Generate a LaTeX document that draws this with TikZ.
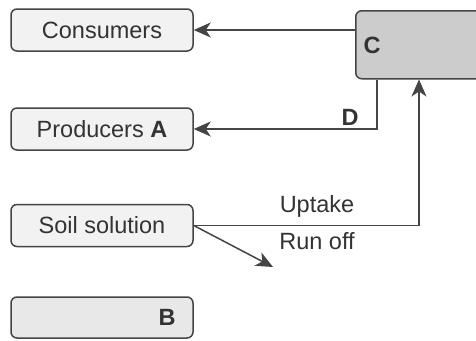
\documentclass[tikz,border=0pt]{standalone}
\usepackage{fontspec}
\setmainfont{Liberation Sans}
\usetikzlibrary{arrows.meta,calc}
\definecolor{ln}{HTML}{454545}
\definecolor{tx}{HTML}{333333}
\tikzset{
  box/.style={draw=ln, line width=1.5pt, rounded corners=6pt, fill=#1, minimum width=182pt, minimum height=42pt, inner sep=0pt, text=tx, font=\fontsize{23.5}{26}\selectfont},
  box/.default={black!5},
  lbl/.style={text=tx, font=\fontsize{23.5}{26}\selectfont, inner sep=0pt},
  arr/.style={draw=ln, line width=1.5pt, -{Stealth[length=17pt,width=15pt,inset=5pt]}},
}
\begin{document}
\begin{tikzpicture}[x=1pt,y=-1pt]
\clip (0,0) rectangle (476,340);
\fill[white] (0,0) rectangle (476,340);
\node[box] (cons) at (102,30) {Consumers};
\node[box] (prod) at (102,129) {Producers \textbf{A}};
\node[box] (soil) at (102,225.5) {Soil solution};
\node[box={black!9}, minimum height=41pt] (bbox) at (102,317.5) {};
\node[lbl, font=\fontsize{23.5}{26}\selectfont\bfseries] (blab) at (167,317.5) {B};
\node[box={black!20}, minimum width=140pt, minimum height=68pt, anchor=north west] (cbox) at (355,10) {};
\node[lbl, font=\fontsize{23.5}{26}\selectfont\bfseries] (clab) at (372,45) {C};
\coordinate (dtop) at ($(cbox.south west)+(22,0)$);
\coordinate (uptop) at ($(cbox.south west)+(64,0)$);
\coordinate (roend) at (273,267);
\draw[arr] (cons.east -| cbox.west) -- (cons.east);
\draw[arr] (dtop) |- (prod.east);
\node[lbl, font=\fontsize{23.5}{26}\selectfont\bfseries] (dlab) at (350,117) {D};
\draw[arr] (soil.east) -| (uptop);
\draw[arr] (soil.east) -- (roend);
\node[lbl] (uplab) at (317,206) {Uptake};
\node[lbl] (rolab) at (317,241) {Run off};
\end{tikzpicture}
\end{document}
